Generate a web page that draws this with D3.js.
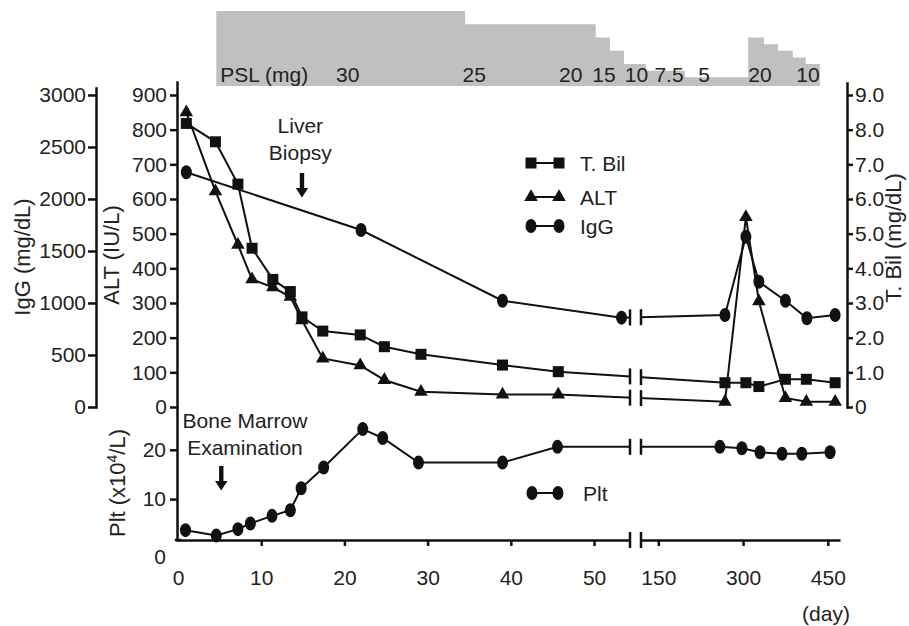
<!DOCTYPE html>
<html>
<head>
<meta charset="utf-8">
<script src="https://cdn.jsdelivr.net/npm/d3@7"></script>
<style>
  body { margin: 0; background: #fff; }
  svg text { font-family: "Liberation Sans", Arial, sans-serif; fill: #222; }
</style>
</head>
<body>
<div id="chart"></div>
<script>
var svgWidth = 909;
var svgHeight = 626;

// measurement days, before and after the axis break
var leftDays = [1, 4.5, 7.2, 8.9, 11.4, 13.5, 14.9, 17.4, 21.9, 24.8, 29.2, 39, 45.7];
var rightDays = [268, 305, 328, 375, 412, 463];

var tbilValues = [8.18, 7.65, 6.43, 4.58, 3.68, 3.33, 2.6, 2.19, 2.08, 1.74, 1.52, 1.21, 1.02,
                  0.7, 0.7, 0.59, 0.8, 0.8, 0.7];
var altValues = [850, 622, 468, 368, 345, 318, 250, 140, 120, 78, 44, 36, 36,
                 15, 548, 305, 26, 15, 15];

var iggDays = [1, 22, 39, 53.3, 268, 305, 328, 375, 413, 463];
var iggValues = [2257, 1702, 1022, 859, 885, 1638, 1205, 1022, 853, 885];

var pltDays = [0.9, 4.6, 7.2, 8.7, 11.3, 13.5, 14.8, 17.5, 22.2, 24.6, 28.9, 39, 45.6,
               259, 298, 330, 369, 404, 454];
var pltValues = [3.7, 2.6, 3.9, 5.05, 6.6, 7.75, 12.2, 16.4, 24.2, 22.4, 17.4, 17.4, 20.6,
                 20.6, 20.3, 19.5, 19.2, 19.2, 19.5];

// prednisolone dose steps (start day of each step, dose in mg)
var pslStart = [4.6, 34.5, 50.2, 51.9, 53.6, 128, 197, 309, 337, 362, 388, 411];
var pslDose = [30, 25, 20, 15, 10, 7.5, 5, 20, 17.5, 15, 12.5, 10];
var pslEnd = 436;
var pslLabels = ["30", "25", "20", "15", "10", "7.5", "5", "20", "10"];
var pslLabelDays = [20.4, 35.6, 47.2, 51.2, 55.1, 169, 231, 330, 415];

// tick labels
var iggTicks = [0, 500, 1000, 1500, 2000, 2500, 3000];
var altTicks = [0, 100, 200, 300, 400, 500, 600, 700, 800, 900];
var bilTicks = [0, 1, 2, 3, 4, 5, 6, 7, 8, 9];
var pltTicks = [0, 10, 20];
var dayTicksLeft = [0, 10, 20, 30, 40, 50];
var dayTicksRight = [150, 300, 450];

var ink = "#111";

var svg = d3.select("#chart").append("svg")
  .attr("width", svgWidth)
  .attr("height", svgHeight);

// broken x axis: two linear pieces
var xL = d3.scaleLinear().domain([0, 54.2]).range([178, 629]);
var xR = d3.scaleLinear().domain([117.6, 471.6]).range([640, 840]);
function xDay(d) { return d < 80 ? xL(d) : xR(d); }
var gapLeft = 630, gapRight = 641;

var yAlt = d3.scaleLinear().domain([0, 900]).range([407, 95]);
var yIgg = d3.scaleLinear().domain([0, 3000]).range([407, 95]);
var yBil = d3.scaleLinear().domain([0, 9]).range([407, 95]);
var yPlt = d3.scaleLinear().domain([0, 20]).range([548.4, 449.8]);
var yPsl = d3.scaleLinear().domain([0, 30]).range([90.5, 11]);
var pslBase = 86;
var xAxisY = 540;

// axis scale whose domain line runs from pixel y0 to y1
function stretch(scale, y0, y1) {
  return scale.copy().domain([scale.invert(y0), scale.invert(y1)]).range([y0, y1]);
}

function styleAxis(g) {
  g.attr("font-family", null).attr("font-size", 21).attr("color", ink);
  g.select(".domain").attr("stroke-width", 2.5).attr("stroke-linecap", "square");
  g.selectAll(".tick line").attr("stroke-width", 2.5);
}

// PSL band
var pslData = pslStart.map(function(d, i) { return {day: d, dose: pslDose[i]}; });
pslData.push({day: pslEnd, dose: pslDose[pslDose.length - 1]});

svg.append("path")
  .datum(pslData)
  .attr("fill", "#c0c0c0")
  .attr("d", d3.area()
    .x(function(d) { return xDay(d.day); })
    .y0(pslBase)
    .y1(function(d) { return yPsl(d.dose); })
    .curve(d3.curveStepAfter));

svg.append("text")
  .attr("x", xDay(pslStart[0]) + 4)
  .attr("y", 82)
  .style("font-size", "21px")
  .text("PSL (mg)");

svg.selectAll(".psl-label")
  .data(pslLabels)
  .enter()
  .append("text")
  .attr("class", "psl-label")
  .attr("x", function(d, i) { return xDay(pslLabelDays[i]); })
  .attr("y", 82)
  .attr("text-anchor", "middle")
  .style("font-size", "21px")
  .text(function(d) { return d; });

// y axes
var iggAxis = svg.append("g")
  .attr("transform", "translate(96,0)")
  .call(d3.axisLeft(stretch(yIgg, 407, 88)).tickValues(iggTicks).tickFormat(d3.format("d"))
    .tickSize(8).tickSizeOuter(0).tickPadding(2))
  .call(styleAxis);

var altAxis = svg.append("g")
  .attr("transform", "translate(177,0)")
  .call(d3.axisLeft(stretch(yAlt, 407, 82)).tickValues(altTicks).tickSize(7).tickSizeOuter(0).tickPadding(3))
  .call(styleAxis);

var pltAxis = svg.append("g")
  .attr("transform", "translate(177,0)")
  .call(d3.axisLeft(stretch(yPlt, xAxisY, 407)).tickValues(pltTicks).tickSize(7).tickSizeOuter(0).tickPadding(4))
  .call(styleAxis);
// the zero of the platelet axis sits below the x axis, without a tick
pltAxis.selectAll(".tick").filter(function(d) { return d === 0; })
  .call(function(t) {
    t.select("line").remove();
    t.select("text").attr("dy", "0.72em");
  });

var bilAxis = svg.append("g")
  .attr("transform", "translate(847,0)")
  .call(d3.axisRight(stretch(yBil, 407, 83)).tickValues(bilTicks).tickSize(6).tickSizeOuter(0).tickPadding(2)
    .tickFormat(function(d) { return d === 0 ? "0" : d.toFixed(1); }))
  .call(styleAxis);

// x axis in two pieces
var xAxisLeft = svg.append("g")
  .attr("transform", "translate(0," + xAxisY + ")")
  .call(d3.axisBottom(xL).tickValues(dayTicksLeft).tickSize(6).tickSizeOuter(0).tickPadding(24))
  .call(styleAxis);
xAxisLeft.selectAll(".tick").filter(function(d) { return d === 0; }).select("line").remove();
xAxisLeft.select(".domain").attr("stroke-linecap", "butt");

var xAxisRight = svg.append("g")
  .attr("transform", "translate(0," + xAxisY + ")")
  .call(d3.axisBottom(xR).tickValues(dayTicksRight).tickSize(6).tickSizeOuter(0).tickPadding(24))
  .call(styleAxis);
xAxisRight.select(".domain").attr("stroke-linecap", "butt");

svg.append("line")
  .attr("x1", 176).attr("x2", 180).attr("y1", xAxisY).attr("y2", xAxisY)
  .attr("stroke", ink).attr("stroke-width", 2.5).attr("stroke-linecap", "square");

function breakBars(y) {
  [gapLeft, gapRight].forEach(function(x) {
    svg.append("line")
      .attr("x1", x).attr("x2", x)
      .attr("y1", y - 8).attr("y2", y + 8)
      .attr("stroke", ink)
      .attr("stroke-width", 2.5);
  });
}
breakBars(xAxisY);

svg.append("text")
  .attr("x", 826)
  .attr("y", 621)
  .attr("text-anchor", "middle")
  .style("font-size", "21px")
  .text("(day)");

// axis titles
function vTitle(x, y, txt) {
  return svg.append("text")
    .attr("transform", "translate(" + x + "," + y + ") rotate(-90)")
    .attr("text-anchor", "middle")
    .attr("dy", "0.35em")
    .style("font-size", "22px")
    .text(txt);
}
vTitle(22, 257, "IgG (mg/dL)");
vTitle(111, 255, "ALT (IU/L)");
vTitle(893, 238, "T. Bil (mg/dL)");
var pltTitle = vTitle(117, 483, "Plt (x10");
pltTitle.append("tspan").attr("baseline-shift", "super").style("font-size", "14px").text("4");
pltTitle.append("tspan").text("/L)");

// series
var clip = svg.append("clipPath").attr("id", "gapClip");
clip.append("rect").attr("x", 0).attr("y", 0).attr("width", gapLeft).attr("height", svgHeight);
clip.append("rect").attr("x", gapRight).attr("y", 0).attr("width", svgWidth - gapRight).attr("height", svgHeight);

function drawSeries(days, values, yScale, marker) {
  var data = days.map(function(d, i) { return {x: xDay(d), y: yScale(values[i])}; });

  svg.append("path")
    .datum(data)
    .attr("clip-path", "url(#gapClip)")
    .attr("fill", "none")
    .attr("stroke", ink)
    .attr("stroke-width", 2)
    .attr("d", d3.line().x(function(d) { return d.x; }).y(function(d) { return d.y; }));

  // break marks where the line crosses the gap
  var iL = d3.bisector(function(d) { return d; }).left(days, 80) - 1;
  var a = data[iL], b = data[iL + 1];
  [gapLeft, gapRight].forEach(function(x) {
    var y = a.y + (b.y - a.y) * (x - a.x) / (b.x - a.x);
    svg.append("line")
      .attr("x1", x).attr("x2", x)
      .attr("y1", y - 8).attr("y2", y + 8)
      .attr("stroke", ink)
      .attr("stroke-width", 2.5);
  });

  var g = svg.append("g");
  data.forEach(function(d) { marker(g, d.x, d.y); });
}

function square(g, x, y) {
  g.append("rect").attr("x", x - 5.5).attr("y", y - 5.5)
    .attr("width", 11).attr("height", 11).attr("fill", ink);
}
function triangle(g, x, y) {
  g.append("path").attr("transform", "translate(" + x + "," + y + ")")
    .attr("d", d3.symbol(d3.symbolTriangle, 80)()).attr("fill", ink);
}
function dot(g, x, y) {
  g.append("ellipse").attr("cx", x).attr("cy", y)
    .attr("rx", 5.5).attr("ry", 7).attr("fill", ink);
}

var allDays = leftDays.concat(rightDays);
drawSeries(iggDays, iggValues, yIgg, dot);
drawSeries(allDays, altValues, yAlt, triangle);
drawSeries(allDays, tbilValues, yBil, square);
drawSeries(pltDays, pltValues, yPlt, dot);

// legends
function legendRow(x1, x2, y, marker, label, tx) {
  var g = svg.append("g");
  g.append("line").attr("x1", x1).attr("x2", x2).attr("y1", y).attr("y2", y)
    .attr("stroke", ink).attr("stroke-width", 2);
  marker(g, x1, y);
  marker(g, x2, y);
  g.append("text").attr("x", tx).attr("y", y).attr("dy", "0.36em")
    .style("font-size", "21px").text(label);
}
legendRow(531, 559, 163, square, "T. Bil", 580);
legendRow(531, 559, 197, triangle, "ALT", 580);
legendRow(531, 559, 226, dot, "IgG", 580);
legendRow(532, 558, 493, dot, "Plt", 583);

// event annotations: text centred at textDay, arrow at arrowDay
function annotate(arrowDay, textDay, lines, yLines, yArrow) {
  var x = xDay(arrowDay);
  lines.forEach(function(t, i) {
    svg.append("text").attr("x", xDay(textDay)).attr("y", yLines[i])
      .attr("text-anchor", "middle").style("font-size", "21px").text(t);
  });
  svg.append("path")
    .attr("fill", ink)
    .attr("d", "M" + (x - 2.2) + "," + yArrow + "v15h-4l6.2,9.5l6.2,-9.5h-4v-15z");
}
annotate(14.9, 14.7, ["Liver", "Biopsy"], [133, 160], 173);
annotate(5.2, 8.05, ["Bone Marrow", "Examination"], [428, 455], 466);
</script>
</body>
</html>
